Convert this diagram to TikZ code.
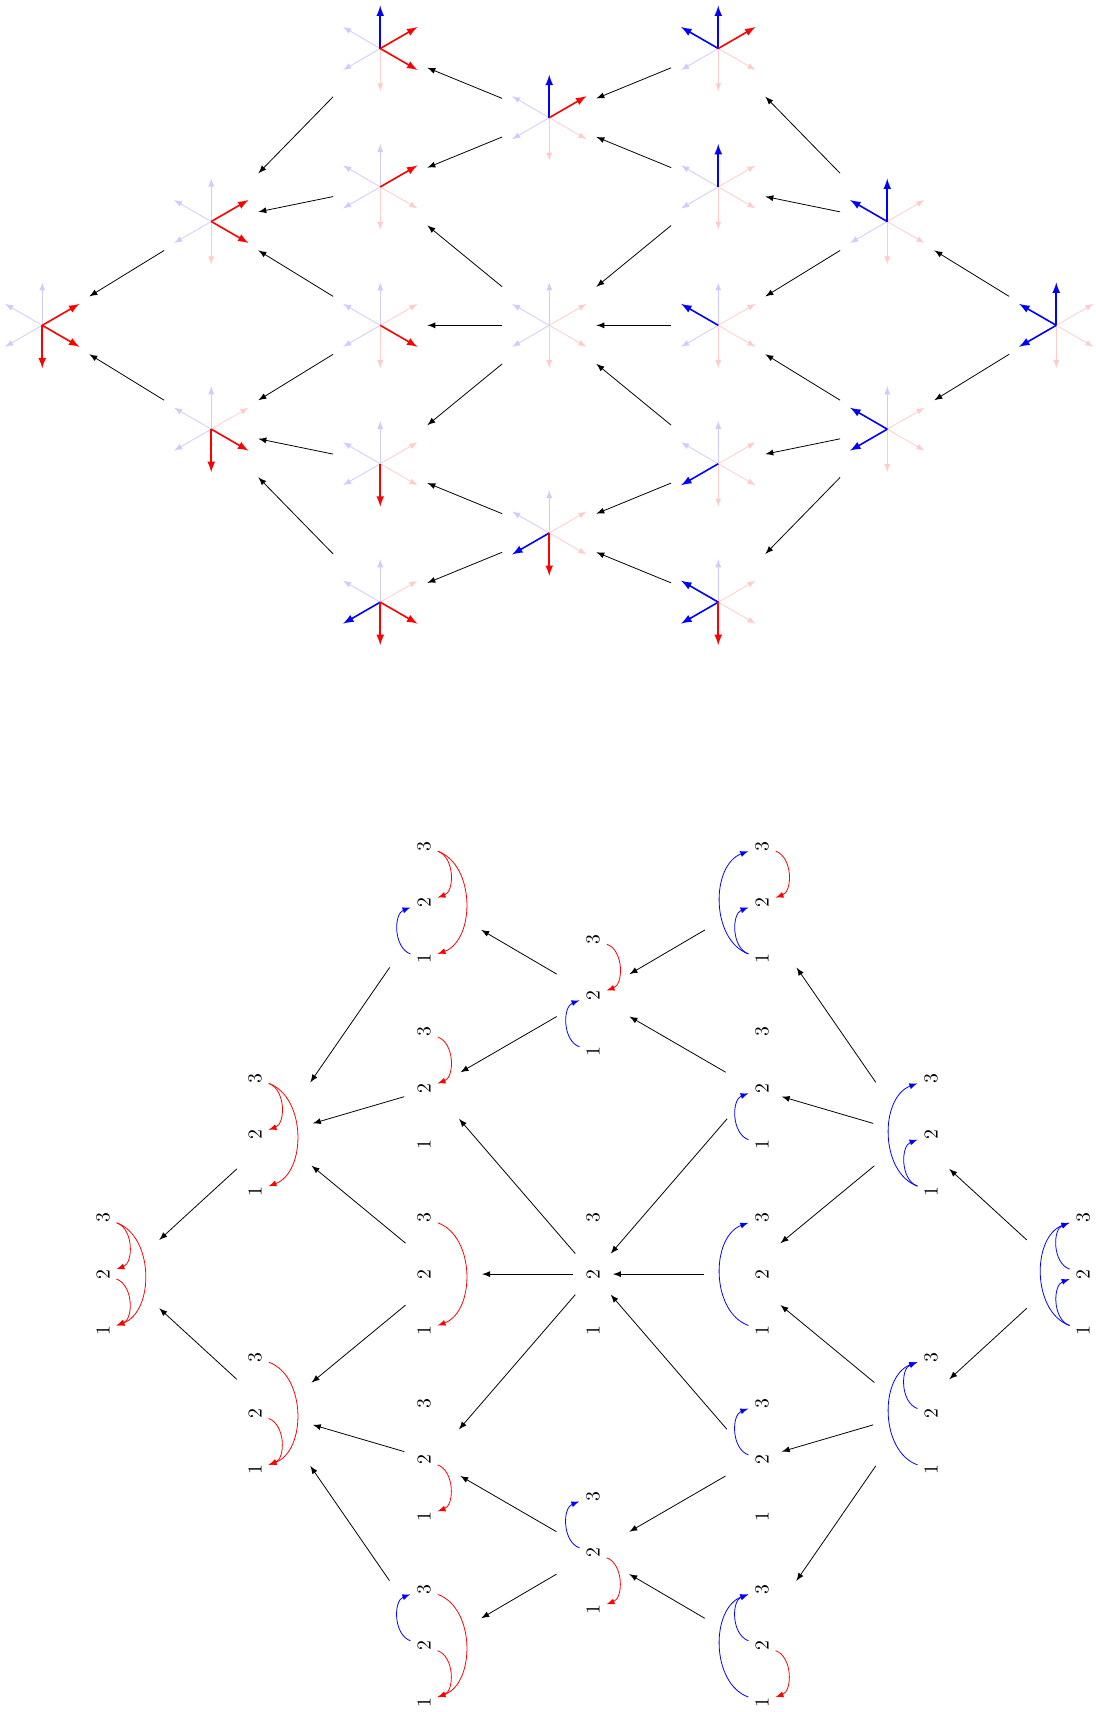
\documentclass[tikz,border=0pt]{standalone}
\tikzset{
  starbox/.style={minimum width=1.66cm, minimum height=1.76cm, inner sep=0pt},
  link/.style={-latex},
  uparc/.style={-latex, color=blue},
  downarc/.style={-latex, color=red},
}
\def\hexstar(#1)(#2){%
  \node[starbox] (#1) at (#2) {};
  \foreach \ang in {90,150,210} \draw[-latex, color=blue!20] (#1.center) -- ++(\ang:0.76);
  \foreach \ang in {30,-30,-90} \draw[-latex, color=red!20] (#1.center) -- ++(\ang:0.76);}
\def\hexon(#1)(#2:#3){\draw[-latex, thick, color=#3] (#1.center) -- ++(#2:0.76);}
\def\barc#1#2{\draw[uparc] (\cur-#1) to[bend left=70] (\cur-#2);}
\def\rarc#1#2{\draw[downarc] (\cur-#1) to[bend left=70] (\cur-#2);}
\def\chordset(#1)(#2)#3{%
  \begin{scope}[local bounding box=#1]
  \begin{scope}[shift={(#2)}, rotate=90, transform shape]
    \node (#1-1) at (-1,0) {1};
    \node (#1-2) at (0,0) {2};
    \node (#1-3) at (1,0) {3};
    \def\cur{#1}#3
  \end{scope}
  \end{scope}}
\def\posetlinks{3/1, 2/3, 1/6, 3/4, 5/3, 7/2, 4/6, 7/5, 6/8, 9/6, 10/4, 5/10, 7/11, 12/7, 10/9,
  11/10, 13/8, 9/13, 10/15, 16/10, 14/11, 12/14, 15/13, 14/16, 18/13, 17/15, 16/17, 14/19, 17/18, 19/17}

\begin{document}
\begin{tikzpicture}
		%%%%% STARS %%%%%
		\hexstar(t1)(6.75,-0.861)
		\hexon(t1)(90:blue) \hexon(t1)(30:red) \hexon(t1)(-30:red)
		\hexstar(t2)(12.75,-0.861)
		\hexon(t2)(90:blue) \hexon(t2)(150:blue) \hexon(t2)(30:red)
		\hexstar(t3)(9.75,-2.089)
		\hexon(t3)(90:blue) \hexon(t3)(30:red)
		\hexstar(t4)(6.75,-3.318)
		\hexon(t4)(30:red)
		\hexstar(t5)(12.75,-3.318)
		\hexon(t5)(90:blue)
		\hexstar(t6)(3.75,-3.932)
		\hexon(t6)(30:red) \hexon(t6)(-30:red)
		\hexstar(t7)(15.75,-3.932)
		\hexon(t7)(90:blue) \hexon(t7)(150:blue)
		\hexstar(t8)(0.75,-5.775)
		\hexon(t8)(30:red) \hexon(t8)(-30:red) \hexon(t8)(-90:red)
		\hexstar(t9)(6.75,-5.775)
		\hexon(t9)(-30:red)
		\hexstar(t10)(9.75,-5.775)
		\hexstar(t11)(12.75,-5.775)
		\hexon(t11)(150:blue)
		\hexstar(t12)(18.75,-5.775)
		\hexon(t12)(90:blue) \hexon(t12)(150:blue) \hexon(t12)(210:blue)
		\hexstar(t13)(3.75,-7.618)
		\hexon(t13)(-30:red) \hexon(t13)(-90:red)
		\hexstar(t14)(15.75,-7.618)
		\hexon(t14)(150:blue) \hexon(t14)(210:blue)
		\hexstar(t15)(6.75,-8.232)
		\hexon(t15)(-90:red)
		\hexstar(t16)(12.75,-8.232)
		\hexon(t16)(210:blue)
		\hexstar(t17)(9.75,-9.461)
		\hexon(t17)(210:blue) \hexon(t17)(-90:red)
		\hexstar(t18)(6.75,-10.689)
		\hexon(t18)(210:blue) \hexon(t18)(-90:red) \hexon(t18)(-30:red)
		\hexstar(t19)(12.75,-10.689)
		\hexon(t19)(150:blue) \hexon(t19)(210:blue) \hexon(t19)(-90:red)
		
		\foreach \s/\t in \posetlinks \draw[link] (t\s) -- (t\t);
		
		%%%%% ARCS %%%%%
		\chordset(b1)(7.527,-16.021){\barc12 \rarc32 \rarc31}
		\chordset(b2)(13.527,-16.021){\barc13 \barc12 \rarc32}
		\chordset(b3)(10.527,-17.670){\barc12 \rarc32}
		\chordset(b4)(7.527,-19.319){\rarc32}
		\chordset(b5)(13.527,-19.319){\barc12}
		\chordset(b6)(4.527,-20.143){\rarc32 \rarc31}
		\chordset(b7)(16.527,-20.143){\barc13 \barc12}
		\chordset(b8)(1.827,-22.617){\rarc32 \rarc21 \rarc31}
		\chordset(b9)(7.527,-22.617){\rarc31}
		\chordset(b10)(10.527,-22.617){}
		\chordset(b11)(13.527,-22.617){\barc13}
		\chordset(b12)(19.227,-22.617){\barc12 \barc23 \barc13}
		\chordset(b13)(4.527,-25.091){\rarc31 \rarc21}
		\chordset(b14)(16.527,-25.091){\barc13 \barc23}
		\chordset(b15)(7.527,-25.915){\rarc21}
		\chordset(b16)(13.527,-25.915){\barc23}
		\chordset(b17)(10.527,-27.564){\barc23 \rarc21}
		\chordset(b18)(7.527,-29.213){\barc23 \rarc31 \rarc21}
		\chordset(b19)(13.527,-29.213){\barc23 \barc13 \rarc21}
		
		\foreach \s/\t in \posetlinks \draw[link, shorten <=3.33pt, shorten >=3.33pt] (b\s) -- (b\t);
		
		\pgfresetboundingbox
		\useasboundingbox (0,0) rectangle (19.44,-30.39);
	\end{tikzpicture}
\end{document}
